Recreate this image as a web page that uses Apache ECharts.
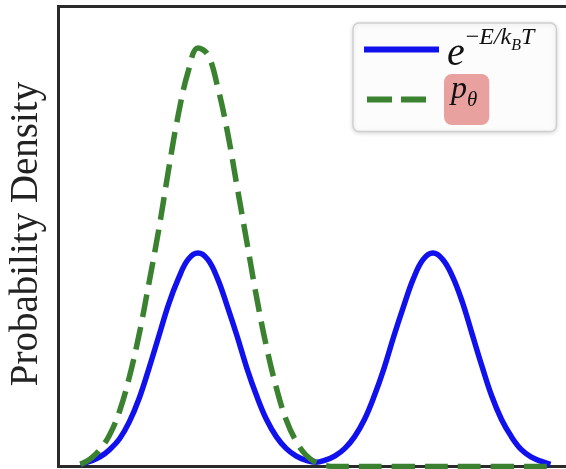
<!DOCTYPE html>
<html>
<head>
<meta charset="utf-8">
<script src="https://cdn.jsdelivr.net/npm/echarts@6/dist/echarts.min.js"></script>
<style>
  html, body { margin: 0; padding: 0; background: #fff; }
  #chart { width: 566px; height: 469px; }
</style>
</head>
<body>
<div id="chart"></div>
<script>
// x positions of the samples (both curves share them)
var xs = [-6, -5.75, -5.5, -5.25, -5, -4.75, -4.5, -4.25, -4, -3.75, -3.5, -3.25, -3,
          -2.75, -2.5, -2.25, -2, -1.75, -1.5, -1.25, -1, -0.75, -0.5, -0.25, 0,
          0.25, 0.5, 0.75, 1, 1.25, 1.5, 1.75, 2, 2.25, 2.5, 2.75, 3,
          3.25, 3.5, 3.75, 4, 4.25, 4.5, 4.75, 5, 5.25, 5.5, 5.75, 6];

// Boltzmann density e^{-E/kT}, two equal modes
var boltzmann = [0.01, 0.025, 0.045, 0.08, 0.13, 0.21, 0.32, 0.46, 0.61, 0.76, 0.88, 0.97, 1.00,
                 0.97, 0.88, 0.75, 0.61, 0.46, 0.33, 0.22, 0.14, 0.085, 0.05, 0.03, 0.02,
                 0.03, 0.05, 0.085, 0.14, 0.22, 0.33, 0.46, 0.61, 0.75, 0.88, 0.97, 1.00,
                 0.97, 0.89, 0.77, 0.62, 0.47, 0.33, 0.22, 0.14, 0.08, 0.045, 0.025, 0.01];

// model density p_theta, collapsed onto the left mode
var model = [0.01, 0.035, 0.08, 0.15, 0.26, 0.42, 0.62, 0.86, 1.11, 1.39, 1.65, 1.85, 1.96,
             1.93, 1.78, 1.57, 1.31, 1.05, 0.79, 0.56, 0.37, 0.22, 0.12, 0.055, 0.02,
             0.005, 0, 0, 0, 0, 0, 0, 0, 0, 0, 0, 0,
             0, 0, 0, 0, 0, 0, 0, 0, 0, 0, 0, 0];

var yTitle = 'Probability Density';
var serif = '"Liberation Serif", "DejaVu Serif", serif';
var pink = '#e8a19e';

function pairs(ys) {
    return xs.map(function (x, i) { return [x, ys[i]]; });
}

var chart = echarts.init(document.getElementById('chart'));
chart.setOption({
    animation: false,
    backgroundColor: '#fff',
    grid: {
        show: true,
        left: 58.5, top: 6.5, right: -8, bottom: 2.5,
        borderColor: '#2a2a2a',
        borderWidth: 3,
        outerBoundsMode: 'none'
    },
    xAxis: {
        type: 'value',
        min: -6.56, max: 6.6,
        axisLine: { show: false },
        axisTick: { show: false },
        axisLabel: { show: false },
        splitLine: { show: false }
    },
    yAxis: {
        type: 'value',
        min: 0, max: 2.155,
        name: yTitle,
        nameLocation: 'middle',
        nameGap: 12,
        nameTextStyle: { fontFamily: serif, fontSize: 39, color: '#222', padding: [0, 0, 0, 5] },
        axisLine: { show: false },
        axisTick: { show: false },
        axisLabel: { show: false },
        splitLine: { show: false }
    },
    legend: {
        orient: 'vertical',
        left: 353, top: 23,
        padding: [2.5, 22, 6.5, 8],
        itemGap: 0,
        itemWidth: 75,
        itemHeight: 14,
        selectedMode: false,
        backgroundColor: 'rgba(255,255,255,0.9)',
        borderColor: '#cfcfcf',
        borderWidth: 1.5,
        borderRadius: 6,
        shadowColor: 'rgba(0,0,0,0.15)',
        shadowBlur: 4,
        shadowOffsetY: 1,
        itemStyle: { opacity: 0, borderWidth: 0 },
        data: [
            { name: 'boltzmann', lineStyle: { width: 6 } },
            { name: 'model', lineStyle: { width: 6, type: [25, 9, 25, 100], dashOffset: 156 } }
        ],
        formatter: function (name) {
            if (name === 'boltzmann') {
                return '{e|e}{mi|\u2212}{sp|E/k}{sb|B}{sp|T}';
            }
            return '{p|p}{th|\u03b8}';
        },
        textStyle: {
            color: '#111',
            rich: {
                e: { fontFamily: serif, fontStyle: 'italic', fontSize: 40, height: 40, padding: [9, 0, 0, 3], color: '#111' },
                mi: { fontFamily: serif, fontSize: 24, height: 24, padding: [0, 0, 24, 1], color: '#111' },
                sp: { fontFamily: serif, fontStyle: 'italic', fontSize: 24, height: 24, padding: [0, 0, 24, 0], color: '#111' },
                sb: { fontFamily: serif, fontStyle: 'italic', fontSize: 16, height: 16, padding: [0, 0, 7, 0], color: '#111' },
                p: { fontFamily: serif, fontStyle: 'italic', fontSize: 32, height: 32, padding: [0, 0, 19, 7],
                     backgroundColor: pink, borderRadius: [8, 0, 0, 8], color: '#111' },
                th: { fontFamily: serif, fontStyle: 'italic', fontSize: 21, height: 21, padding: [16, 12, 14, 0],
                      backgroundColor: pink, borderRadius: [0, 8, 8, 0], color: '#111' }
            }
        }
    },
    series: [
        {
            name: 'boltzmann',
            type: 'line',
            data: pairs(boltzmann),
            smooth: 0.4,
            symbol: 'none',
            lineStyle: { color: '#1111ee', width: 5.5 },
            itemStyle: { color: '#1111ee' },
            z: 2
        },
        {
            name: 'model',
            type: 'line',
            data: pairs(model),
            smooth: 0.4,
            symbol: 'none',
            lineStyle: { color: '#3b8230', width: 5.5, type: [23, 10] },
            itemStyle: { color: '#3b8230' },
            z: 3
        }
    ]
});
window.addEventListener('resize', function () {
    chart.resize();
});
</script>
</body>
</html>
